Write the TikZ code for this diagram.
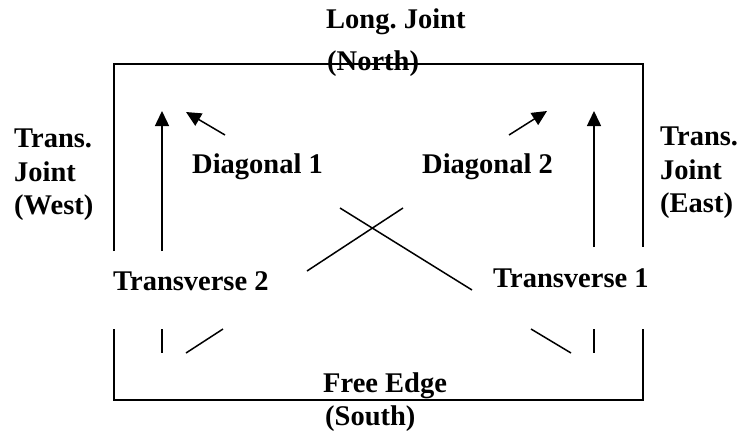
\documentclass[tikz,border=0pt]{standalone}
\usepackage{fontspec}
\setmainfont{Liberation Serif}
\usetikzlibrary{arrows.meta}
\frenchspacing
\begin{document}
\begin{tikzpicture}[x=1pt,y=-1pt,
  lbl/.style={anchor=base west,inner sep=0pt,font=\fontsize{28.5}{33}\selectfont\bfseries},
  frame/.style={line width=2pt},
  seg/.style={line width=1.5pt},
  arr/.style={line width=1.5pt,-{Triangle[length=15pt,width=14pt]}}]
\useasboundingbox (0,0) rectangle (743,432);
% frame corners
\coordinate (lt) at (114,64); \coordinate (rt) at (643,64);
\coordinate (lb) at (114,400); \coordinate (rb) at (643,400);
\coordinate (lgapT) at (114,251); \coordinate (lgapB) at (114,329);
\coordinate (rgapT) at (643,247); \coordinate (rgapB) at (643,329);
\draw[frame] (lgapT) -- (lt) -- (rt) -- (rgapT);
\draw[frame] (lgapB) -- (lb) -- (rb) -- (rgapB);
% transverse arrows
\coordinate (t2a) at (162,251); \coordinate (t2b) at (162,111);
\coordinate (t1a) at (594,247); \coordinate (t1b) at (594,111);
\draw[arr] (t2a) -- (t2b);
\draw[arr] (t1a) -- (t1b);
\coordinate (t2c) at (162,329); \coordinate (t2d) at (162,353);
\coordinate (t1c) at (594,329); \coordinate (t1d) at (594,353);
\draw[seg] (t2c) -- (t2d);
\draw[seg] (t1c) -- (t1d);
% diagonal arrows
\coordinate (d1a) at (225,135); \coordinate (d1b) at (186,112);
\coordinate (d2a) at (509,135); \coordinate (d2b) at (547,111);
\draw[arr] (d1a) -- (d1b);
\draw[arr] (d2a) -- (d2b);
% crossing lines
\coordinate (xa1) at (307,271); \coordinate (xa2) at (403,208);
\coordinate (xb1) at (340,208); \coordinate (xb2) at (472,290);
\draw[seg] (xa1) -- (xa2);
\draw[seg] (xb1) -- (xb2);
% lower diagonal stubs
\coordinate (la1) at (186,353); \coordinate (la2) at (223,329);
\coordinate (ra1) at (531,329); \coordinate (ra2) at (571,353);
\draw[seg] (la1) -- (la2);
\draw[seg] (ra1) -- (ra2);
% labels
\node[lbl] (n1) at (326,28) {Long. Joint};
\node[lbl] (n2) at (327,70) {(North)};
\node[lbl] (w1) at (14,147) {Trans.};
\node[lbl] (w2) at (14,181) {Joint};
\node[lbl] (w3) at (14,214) {(West)};
\node[lbl] (e1) at (660,145) {Trans.};
\node[lbl] (e2) at (660,179) {Joint};
\node[lbl] (e3) at (660,212) {(East)};
\node[lbl] (dg1) at (192,173) {Diagonal 1};
\node[lbl] (dg2) at (422,173) {Diagonal 2};
\node[lbl] (tv2) at (113,290) {Transverse 2};
\node[lbl] (tv1) at (493,287) {Transverse 1};
\node[lbl] (fe) at (323,392) {Free Edge};
\node[lbl] (so) at (325,425) {(South)};
\end{tikzpicture}
\end{document}
